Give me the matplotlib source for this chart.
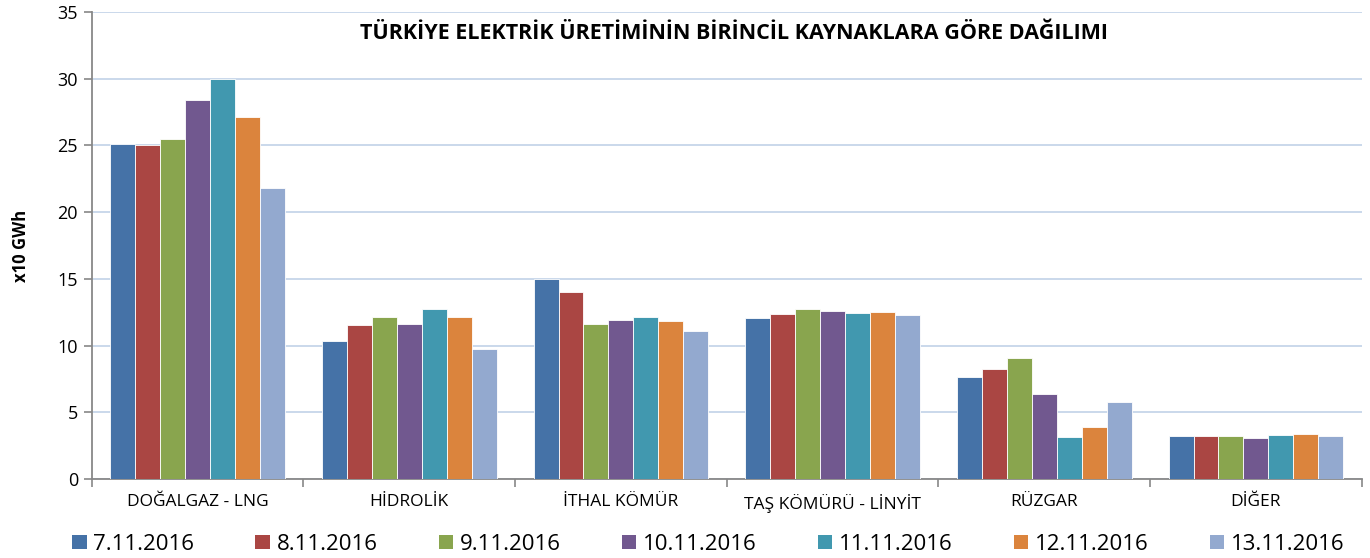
import matplotlib
matplotlib.use("Agg")
import matplotlib.pyplot as plt
import numpy as np
from matplotlib.patches import Patch

categories = ["DOĞALGAZ - LNG", "HİDROLİK", "İTHAL KÖMÜR", "TAŞ KÖMÜRÜ - LİNYİT", "RÜZGAR", "DİĞER"]
dates = ["7.11.2016", "8.11.2016", "9.11.2016", "10.11.2016", "11.11.2016", "12.11.2016", "13.11.2016"]
d_07 = [25.08, 10.37, 14.98, 12.05, 7.67, 3.20]
d_08 = [25.05, 11.53, 14.00, 12.38, 8.23, 3.20]
d_09 = [25.50, 12.13, 11.63, 12.73, 9.08, 3.22]
d_10 = [28.40, 11.58, 11.93, 12.60, 6.40, 3.10]
d_11 = [29.95, 12.73, 12.13, 12.43, 3.13, 3.28]
d_12 = [27.15, 12.15, 11.85, 12.53, 3.90, 3.38]
d_13 = [21.78, 9.75, 11.08, 12.30, 5.75, 3.22]
series = [d_07, d_08, d_09, d_10, d_11, d_12, d_13]
colors = ["#4572A7", "#AA4643", "#89A54E", "#71588F", "#4198AF", "#DB843D", "#93A9CF"]
yticks = [0, 5, 10, 15, 20, 25, 30, 35]

plt.rcParams['font.family'] = ['Open Sans', 'DejaVu Sans']

fig = plt.figure(figsize=(13.7, 5.58), dpi=100)
ax = fig.add_axes([0.067, 0.1416, 0.927, 0.8369])

x = np.arange(len(categories))
bw = 0.118
n = len(series)
for i, (vals, c, lab) in enumerate(zip(series, colors, dates)):
    ax.bar(x + (i - (n - 1) / 2) * bw, vals, width=bw, color=c, edgecolor="white",
           linewidth=0.6, label=lab, zorder=3)

ax.set_xlim(-0.5, len(categories) - 0.5)
ax.set_ylim(0, 35)
ax.set_yticks(yticks)
ax.set_yticklabels([str(v) for v in yticks], fontsize=13)
ax.yaxis.grid(True, color="#c6d5e9", linewidth=1.3, zorder=0)
ax.set_axisbelow(True)

ax.set_xticks(x)
ax.set_xticklabels(categories, fontsize=12.5)
ax.tick_params(axis="x", which="major", length=0, pad=11)
ax.set_xticks(np.arange(-0.5, len(categories) + 0.5, 1), minor=True)
ax.tick_params(axis="x", which="minor", length=6, width=1.2, color="#888888", direction="out")
ax.tick_params(axis="y", length=6, width=1.2, color="#888888", direction="out", pad=4)

for s in ["top", "right"]:
    ax.spines[s].set_visible(False)
for s in ["left", "bottom"]:
    ax.spines[s].set_color("#888888")
    ax.spines[s].set_linewidth(1.3)

ax.set_ylabel("x10 GWh", fontsize=12, fontweight="bold", labelpad=20)
ax.set_title("TÜRKİYE ELEKTRİK ÜRETİMİNİN BİRİNCİL KAYNAKLARA GÖRE DAĞILIMI",
             fontsize=15.5, fontweight="bold", y=0.925, x=0.506)

handles = [Patch(facecolor=c, edgecolor="none") for c in colors]
fig.legend(handles, dates, loc="lower center", bbox_to_anchor=(0.517, -0.03), ncol=7,
           frameon=False, fontsize=16, handlelength=0.65, handleheight=0.65,
           handletextpad=0.3, columnspacing=2.75)

fig.savefig("out.png", dpi=100)
